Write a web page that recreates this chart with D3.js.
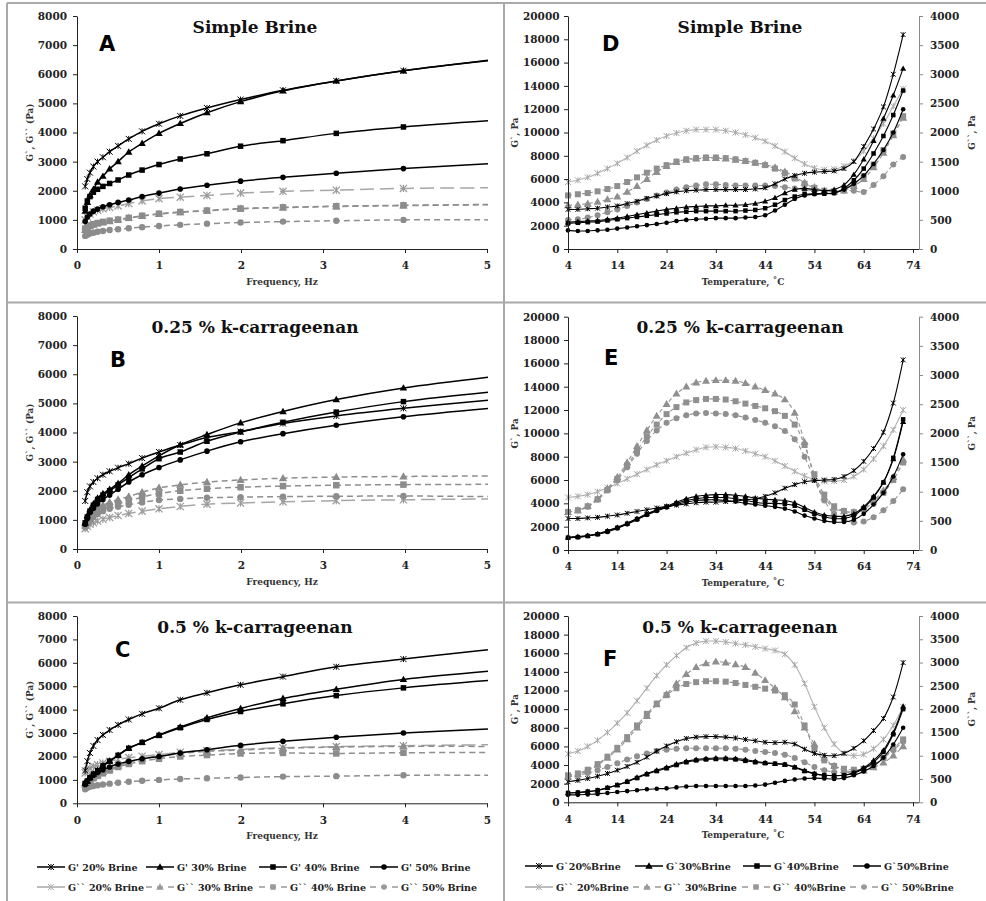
<!DOCTYPE html>
<html><head><meta charset="utf-8">
<script src="https://cdn.jsdelivr.net/npm/d3@7"></script>
<style>
body{margin:0;background:#fff}
svg text{font-family:"DejaVu Serif",serif;font-weight:bold}
</style>
</head><body>
<svg id="c" width="986" height="901"></svg>
<script>
// ---------- DATA ----------
const freq = [0.1,0.126,0.158,0.2,0.251,0.316,0.398,0.501,0.631,0.794,1,1.259,1.585,1.995,2.512,3.162,3.981,5.012];
const freqTicks = [0,1,2,3,4,5];
const freqYTicks = [0,1000,2000,3000,4000,5000,6000,7000,8000];

const A_Gp20 = [2150,2400,2620,2830,3000,3150,3340,3540,3780,4040,4300,4570,4840,5130,5450,5770,6120,6480];
const A_Gp30 = [1300,1600,1850,2050,2300,2500,2750,3000,3330,3630,3970,4310,4680,5060,5430,5770,6120,6460];
const A_Gp40 = [1400,1650,1800,1950,2050,2150,2250,2370,2540,2710,2900,3090,3270,3530,3720,3970,4190,4400];
const A_Gp50 = [950,1100,1200,1300,1370,1450,1520,1600,1680,1800,1920,2060,2190,2330,2460,2600,2760,2930];
const A_Gpp20 = [1000,1100,1200,1280,1330,1380,1430,1480,1560,1650,1730,1780,1840,1920,1980,2020,2080,2100];
const A_Gpp30 = [650,720,780,830,870,910,950,1000,1060,1130,1200,1260,1310,1380,1420,1460,1490,1520];
const A_Gpp40 = [700,760,810,850,890,930,970,1010,1070,1140,1210,1270,1320,1390,1430,1470,1500,1530];
const A_Gpp50 = [450,490,530,560,590,620,650,680,710,750,790,830,870,910,940,970,1000,1000];

const B_Gp20 = [1650,1950,2150,2300,2430,2550,2670,2790,2930,3120,3330,3570,3830,4030,4310,4570,4830,5110];
const B_Gp30 = [900,1150,1350,1550,1750,1900,2050,2250,2550,2850,3200,3580,3930,4330,4720,5130,5530,5900];
const B_Gp40 = [900,1100,1300,1500,1700,1850,2000,2200,2450,2750,3100,3330,3700,4020,4350,4700,5060,5380];
const B_Gp50 = [850,1050,1250,1400,1550,1700,1850,2050,2300,2550,2800,3060,3360,3680,3960,4250,4540,4820];
const B_Gpp20 = [700,780,850,900,960,1020,1080,1150,1220,1300,1380,1460,1540,1580,1620,1660,1690,1720];
const B_Gpp30 = [800,1000,1150,1300,1400,1500,1600,1700,1800,1950,2100,2200,2300,2370,2430,2470,2490,2510];
const B_Gpp40 = [800,950,1080,1200,1300,1400,1480,1550,1650,1780,1900,2000,2070,2120,2160,2190,2210,2220];
const B_Gpp50 = [750,900,1000,1100,1200,1300,1380,1450,1520,1600,1680,1720,1760,1780,1800,1810,1820,1800];

const C_Gp20 = [1400,1800,2150,2450,2700,2920,3130,3350,3580,3820,4060,4420,4720,5060,5410,5830,6160,6560];
const C_Gp30 = [850,950,1100,1250,1400,1600,1800,2050,2350,2600,2920,3260,3650,4050,4480,4870,5290,5640];
const C_Gp40 = [850,950,1100,1250,1400,1600,1800,2050,2350,2600,2900,3230,3580,3920,4250,4600,4930,5240];
const C_Gp50 = [800,950,1080,1200,1320,1430,1550,1680,1790,1900,2000,2150,2290,2480,2650,2820,3000,3170];
const C_Gpp20 = [1300,1400,1500,1580,1650,1720,1800,1880,1950,2010,2080,2180,2250,2300,2370,2420,2460,2500];
const C_Gpp30 = [800,900,1000,1100,1200,1330,1450,1600,1750,1900,2020,2120,2220,2270,2350,2400,2430,2430];
const C_Gpp40 = [780,880,980,1070,1170,1280,1400,1550,1680,1800,1900,2000,2060,2130,2150,2130,2160,2170];
const C_Gpp50 = [600,660,710,740,770,800,840,880,920,960,1000,1040,1070,1100,1140,1160,1200,1200];

const temps = [4,6,8,10,12, 14,16,18,20,22, 24,26,28,30,32, 34,36,38,40,42, 44,46,48,50,52, 54,56,58,60,62, 64,66,68,70,72];
const tempTicks = [4,14,24,34,44,54,64,74];
const gpTicks = [0,2000,4000,6000,8000,10000,12000,14000,16000,18000,20000];
const gppTicks = [0,500,1000,1500,2000,2500,3000,3500,4000];

const D_Gp20 = [3400,3400,3450,3500,3600, 3700,3900,4100,4350,4550, 4750,4900,5000,5050,5100, 5100,5100,5100,5100,5150, 5250,5600,6000,6300,6500, 6600,6650,6700,6900,7500, 8800,10300,12200,15000,18400];
const D_Gp30 = [2300,2350,2400,2450,2550, 2650,2800,2950,3100,3250, 3400,3500,3600,3650,3700, 3700,3750,3750,3800,3900, 4100,4400,4800,5100,5200, 5100,5000,5100,5500,6400, 7700,9300,11200,13200,15500];
const D_Gp40 = [2200,2250,2300,2350,2450, 2550,2650,2750,2850,2950, 3050,3150,3200,3250,3250, 3250,3250,3250,3300,3350, 3500,3800,4200,4500,4700, 4750,4750,4800,5200,5900, 6900,8200,9700,11500,13600];
const D_Gp50 = [1600,1550,1550,1600,1650, 1750,1850,1950,2050,2150, 2250,2400,2500,2550,2600, 2650,2650,2650,2700,2750, 2900,3300,3800,4300,4600, 4700,4750,4800,5100,5600, 6300,7300,8500,10000,12000];
const D_Gpp20 = [1150,1180,1230,1300,1380, 1470,1570,1680,1780,1870, 1940,1990,2030,2050,2050, 2050,2030,2000,1960,1910, 1850,1770,1670,1560,1460, 1390,1360,1370,1420,1510, 1680,1900,2150,2450,2750];
const D_Gpp30 = [750,760,780,810,850, 900,980,1080,1200,1320, 1420,1490,1530,1550,1560, 1560,1550,1530,1510,1480, 1450,1400,1330,1240,1140, 1060,1000,980,1000,1080, 1200,1400,1650,1950,2250];
const D_Gpp40 = [920,940,960,990,1030, 1080,1150,1230,1310,1380, 1440,1500,1540,1560,1570, 1570,1560,1540,1510,1480, 1440,1380,1300,1210,1120, 1050,1000,990,1020,1110, 1250,1450,1700,1980,2280];
const D_Gpp50 = [500,510,540,580,630, 680,740,800,860,920, 970,1020,1060,1090,1110, 1110,1100,1090,1090,1090, 1090,1080,1060,1040,1020, 1000,990,990,1000,1000, 980,1100,1250,1450,1580];

const E_Gp20 = [2700,2700,2750,2800,2900, 3000,3150,3300,3450,3600, 3750,3850,3950,4050,4100, 4100,4150,4200,4300,4400, 4600,4900,5300,5600,5850, 5950,6000,6050,6300,6800, 7600,8700,10100,12600,16300];
const E_Gp30 = [1100,1150,1250,1400,1650, 1950,2300,2700,3100,3450, 3750,4100,4400,4600,4700, 4750,4750,4700,4600,4450, 4350,4300,4250,4050,3650, 3250,3000,2900,2900,3100, 3700,4600,5800,7800,11000];
const E_Gp40 = [1050,1100,1200,1350,1600, 1900,2250,2650,3050,3400, 3700,4000,4250,4400,4500, 4500,4500,4400,4250,4100, 4000,4000,3950,3800,3450, 3100,2850,2700,2700,2950, 3600,4500,5800,7900,11200];
const E_Gp50 = [1050,1100,1200,1350,1550, 1850,2200,2600,3000,3350, 3650,3900,4100,4250,4300, 4300,4250,4150,4000,3900, 3800,3700,3550,3300,2950, 2700,2500,2400,2400,2600, 3100,3900,4900,6300,8200];
const E_Gpp20 = [900,920,950,1000,1070, 1140,1220,1300,1380,1460, 1530,1600,1660,1720,1760, 1770,1760,1740,1700,1650, 1600,1530,1440,1350,1270, 1210,1180,1180,1200,1260, 1380,1560,1780,2060,2400];
const E_Gpp30 = [650,680,750,880,1050, 1250,1500,1780,2050,2300, 2500,2680,2800,2870,2900, 2910,2910,2900,2860,2800, 2740,2680,2580,2350,1850, 1250,900,720,660,650, 720,850,1020,1250,1550];
const E_Gpp40 = [650,680,750,870,1030, 1220,1450,1700,1950,2150, 2330,2450,2530,2570,2590, 2590,2580,2550,2510,2470, 2430,2380,2300,2150,1800, 1300,950,750,670,650, 700,820,980,1200,1500];
const E_Gpp50 = [650,680,740,860,1020, 1200,1420,1650,1870,2050, 2180,2260,2310,2340,2350, 2340,2330,2310,2270,2230, 2180,2120,2040,1900,1600, 1200,850,620,520,470, 490,560,680,840,1040];

const F_Gp20 = [2200,2350,2550,2800,3100, 3450,3850,4300,4850,5500, 6050,6500,6850,7000,7050, 7050,7000,6900,6750,6600, 6450,6400,6450,6250,5700, 5250,5050,5000,5250,5800, 6600,7700,9000,11300,15000];
const F_Gp30 = [1000,1050,1150,1300,1550, 1850,2250,2700,3100,3450, 3750,4100,4400,4600,4700, 4750,4750,4700,4600,4400, 4250,4150,4050,3800,3400, 3100,2900,2850,2900,3200, 3700,4500,5600,7500,10300];
const F_Gp40 = [1000,1050,1150,1300,1550, 1850,2200,2600,3000,3350, 3650,4000,4300,4500,4600, 4650,4650,4600,4450,4300, 4200,4150,4050,3750,3350, 3050,2900,2850,2900,3150, 3600,4300,5400,7300,10000];
const F_Gp50 = [800,800,850,900,1000, 1100,1200,1300,1400,1450, 1500,1600,1700,1750,1750, 1750,1750,1750,1750,1800, 1900,2100,2300,2450,2550, 2600,2550,2500,2600,2900, 3300,3900,4800,6200,8000];
const F_Gpp20 = [1040,1100,1200,1330,1500, 1700,1920,2180,2450,2720, 2950,3150,3320,3420,3460, 3460,3440,3410,3380,3340, 3300,3260,3180,2950,2550, 2050,1600,1250,1050,1000, 1030,1150,1350,1650,2050];
const F_Gpp30 = [550,600,680,800,950, 1130,1350,1600,1850,2100, 2320,2550,2750,2900,2980, 3020,3000,2960,2900,2780, 2620,2450,2250,1950,1600, 1250,950,780,690,650, 680,750,850,1000,1200];
const F_Gpp40 = [580,620,700,820,980, 1170,1400,1650,1900,2120, 2300,2450,2540,2580,2600, 2600,2590,2560,2520,2480, 2440,2400,2300,2100,1650, 1150,900,780,720,700, 720,800,950,1150,1350];
const F_Gpp50 = [550,580,630,690,760, 840,920,990,1050,1100, 1130,1150,1160,1160,1160, 1160,1160,1150,1130,1100, 1080,1060,1020,950,860, 760,690,650,640,660, 720,820,950,1120,1300];

const leftLegendGp = ["G' 20%  Brine","G' 30% Brine","G' 40% Brine","G' 50%  Brine"];
const leftLegendGpp = ["G`` 20% Brine","G`` 30% Brine","G`` 40% Brine","G`` 50% Brine"];
const rightLegendGp = ["G`20%Brine","G`30%Brine","G`40%Brine","G`50%Brine"];
const rightLegendGpp = ["G`` 20%Brine","G`` 30%Brine","G`` 40%Brine","G`` 50%Brine"];

// ---------- DRAWING ----------
const svg = d3.select('#c');
const shapes = ['star','tri','sq','circ'];

function markers(g, shape, pts, o){
  const sel = g.selectAll(null).data(pts).enter();
  if(shape==='star'){
    const r=o.r;
    sel.append('path').attr('d', d=>`M${d[0]-r},${d[1]-r}L${d[0]+r},${d[1]+r}M${d[0]-r},${d[1]+r}L${d[0]+r},${d[1]-r}M${d[0]},${d[1]-r}L${d[0]},${d[1]+r}`)
      .attr('stroke',o.color).attr('stroke-width',o.sw||1).attr('fill','none');
  } else if(shape==='tri'){
    sel.append('path').attr('d', d3.symbol(d3.symbolTriangle, o.area)).attr('transform',d=>`translate(${d[0]},${d[1]+0.5})`).attr('fill',o.color);
  } else if(shape==='sq'){
    sel.append('rect').attr('x',d=>d[0]-o.s/2).attr('y',d=>d[1]-o.s/2).attr('width',o.s).attr('height',o.s).attr('fill',o.color);
  } else {
    sel.append('circle').attr('cx',d=>d[0]).attr('cy',d=>d[1]).attr('r',o.cr).attr('fill',o.color);
  }
}

function series(g, xs, vals, x, y, shape, st, xmax){
  const pts = xs.map((v,i)=>[x(v), y(vals[i])]);
  const line = d3.line().curve(d3.curveCatmullRom.alpha(0.5));
  g.append('path').attr('d', line(pts)).attr('fill','none').attr('stroke',st.line)
    .attr('stroke-width',st.lw).attr('stroke-dasharray',st.dash||null);
  const mp = pts.filter((p,i)=>xs[i]<=xmax);
  markers(g, shape, mp, st.m);
}

function styleAxis(g, color){
  g.selectAll('path.domain').attr('stroke',color||'#222').attr('stroke-width',1);
  g.selectAll('.tick line').attr('stroke',color||'#222');
  g.selectAll('.tick text').attr('fill','#222').style('font-size','10.5px')
    .style('font-family','"DejaVu Serif",serif').style('font-weight','bold');
}

function panelText(p, cx){
  svg.append('text').attr('x',cx).attr('y',p.titleY).attr('text-anchor','middle')
    .style('font-size','17px').attr('fill','#111').text(p.title);
  svg.append('text').attr('x',p.letterX).attr('y',p.letterY)
    .style('font-family','"DejaVu Sans",sans-serif').style('font-size','21px').attr('fill','#000').text(p.letter);
}

// frame
const frame = svg.append('g').attr('stroke','#a9a9a9').attr('stroke-width',2);
frame.append('line').attr('x1',7).attr('x2',986).attr('y1',3).attr('y2',3);
frame.append('line').attr('x1',7).attr('x2',7).attr('y1',3).attr('y2',901);
frame.append('line').attr('x1',504).attr('x2',504).attr('y1',3).attr('y2',901);
frame.append('line').attr('x1',7).attr('x2',986).attr('y1',302.5).attr('y2',302.5);
frame.append('line').attr('x1',7).attr('x2',986).attr('y1',602.5).attr('y2',602.5);

const freqPanels = [
  {letter:'A', title:'Simple Brine', top:16, bottom:249, titleY:33, letterX:99, letterY:51,
   gp:[A_Gp20,A_Gp30,A_Gp40,A_Gp50], gpp:[A_Gpp20,A_Gpp30,A_Gpp40,A_Gpp50]},
  {letter:'B', title:'0.25 % k-carrageenan', top:316, bottom:549, titleY:333, letterX:110, letterY:367,
   gp:[B_Gp20,B_Gp30,B_Gp40,B_Gp50], gpp:[B_Gpp20,B_Gpp30,B_Gpp40,B_Gpp50]},
  {letter:'C', title:'0.5 % k-carrageenan', top:616, bottom:803.3, titleY:633, letterX:115, letterY:657,
   gp:[C_Gp20,C_Gp30,C_Gp40,C_Gp50], gpp:[C_Gpp20,C_Gpp30,C_Gpp40,C_Gpp50]}
];

const blackF = {line:'#000', lw:1.5, m:{color:'#000', r:3, area:24, s:5.5, cr:2.8}};
const grayF20 = {line:'#a6a6a6', lw:1.5, dash:'14,6', m:{color:'#9a9a9a', r:3.6, sw:1.2}};
const grayF = {line:'#8e8e8e', lw:1.5, dash:'6,4', m:{color:'#8c8c8c', area:30, s:6.5, cr:3.2}};

freqPanels.forEach(p=>{
  const x = d3.scaleLinear().domain([0,5]).range([77,487]);
  const y = d3.scaleLinear().domain([0,8000]).range([p.bottom,p.top]);
  const g = svg.append('g');
  p.gpp.forEach((v,i)=>series(g, freq, v, x, y, shapes[i], i===0?grayF20:grayF, 5));
  p.gp.forEach((v,i)=>series(g, freq, v, x, y, shapes[i], blackF, 5));
  const gx = svg.append('g').attr('transform',`translate(0,${p.bottom})`)
    .call(d3.axisBottom(x).tickValues(freqTicks).tickSize(4).tickSizeOuter(0).tickPadding(9).tickFormat(d3.format('d')));
  const gy = svg.append('g').attr('transform','translate(77,0)')
    .call(d3.axisLeft(y).tickValues(freqYTicks).tickSize(4).tickSizeOuter(0).tickPadding(6).tickFormat(d3.format('d')));
  styleAxis(gx); styleAxis(gy);
  svg.append('text').attr('x',282).attr('y',p.bottom+36).attr('text-anchor','middle')
    .style('font-size','9px').attr('fill','#333').text('Frequency, Hz');
  svg.append('text').attr('transform',`translate(33,${(p.top+p.bottom)/2}) rotate(-90)`).attr('text-anchor','middle')
    .style('font-size','8.8px').attr('fill','#333').text('G`, G`` (Pa)');
  panelText(p, 255);
});

const tempPanels = [
  {letter:'D', title:'Simple Brine', top:16, bottom:249, titleY:33, letterX:602, letterY:51,
   gp:[D_Gp20,D_Gp30,D_Gp40,D_Gp50], gpp:[D_Gpp20,D_Gpp30,D_Gpp40,D_Gpp50]},
  {letter:'E', title:'0.25 % k-carrageenan', top:316.7, bottom:550, titleY:333, letterX:604, letterY:365,
   gp:[E_Gp20,E_Gp30,E_Gp40,E_Gp50], gpp:[E_Gpp20,E_Gpp30,E_Gpp40,E_Gpp50]},
  {letter:'F', title:'0.5 % k-carrageenan', top:616, bottom:802.3, titleY:633, letterX:603, letterY:666,
   gp:[F_Gp20,F_Gp30,F_Gp40,F_Gp50], gpp:[F_Gpp20,F_Gpp30,F_Gpp40,F_Gpp50]}
];

const blackT = {line:'#000', lw:1.1, m:{color:'#000', r:2.4, area:16, s:4.5, cr:2.3}};
const grayT20 = {line:'#b3b3b3', lw:1.1, m:{color:'#a8a8a8', r:3, sw:1}};
const grayT = {line:'#939393', lw:1.1, dash:'4,3', m:{color:'#8f8f8f', area:28, s:6, cr:3}};

tempPanels.forEach(p=>{
  const x = d3.scaleLinear().domain([4,74]).range([568,913]);
  const yL = d3.scaleLinear().domain([0,20000]).range([p.bottom,p.top]);
  const yR = d3.scaleLinear().domain([0,4000]).range([p.bottom,p.top]);
  const g = svg.append('g');
  p.gpp.forEach((v,i)=>series(g, temps, v, x, yR, shapes[i], i===0?grayT20:grayT, 74));
  p.gp.forEach((v,i)=>series(g, temps, v, x, yL, shapes[i], blackT, 74));
  const gx = svg.append('g').attr('transform',`translate(0,${p.bottom})`)
    .call(d3.axisBottom(x).tickValues(tempTicks).tickSize(4).tickSizeOuter(0).tickPadding(9).tickFormat(d3.format('d')));
  gx.append('line').attr('x1',913).attr('x2',919).attr('y1',0.5).attr('y2',0.5).attr('stroke','#222');
  const gy = svg.append('g').attr('transform','translate(568,0)')
    .call(d3.axisLeft(yL).tickValues(gpTicks).tickSize(4).tickSizeOuter(0).tickPadding(4.5).tickFormat(d3.format('d')));
  const gr = svg.append('g').attr('transform','translate(919,0)')
    .call(d3.axisRight(yR).tickValues(gppTicks).tickSize(4).tickSizeOuter(0).tickPadding(7).tickFormat(d3.format('d')));
  styleAxis(gx); styleAxis(gy); styleAxis(gr,'#8a8a8a');
  svg.append('text').attr('x',743).attr('y',p.bottom+36).attr('text-anchor','middle')
    .style('font-size','9px').attr('fill','#333').text('Temperature, ˚C');
  svg.append('text').attr('transform',`translate(518,${(p.top+p.bottom)/2}) rotate(-90)`).attr('text-anchor','middle')
    .style('font-size','8.8px').attr('fill','#333').text('G`, Pa');
  svg.append('text').attr('transform',`translate(975,${(p.top+p.bottom)/2}) rotate(-90)`).attr('text-anchor','middle')
    .style('font-size','8.8px').attr('fill','#333').text('G``, Pa');
  panelText(p, 740);
});

// ---------- LEGENDS ----------
function legend(xs, y, labels, styles){
  labels.forEach((lab,i)=>{
    const st = styles[i];
    const g = svg.append('g');
    g.append('line').attr('x1',xs[i]).attr('x2',xs[i]+28).attr('y1',y).attr('y2',y)
      .attr('stroke',st.line).attr('stroke-width',1.5).attr('stroke-dasharray',st.dash||null);
    markers(g, shapes[i], [[xs[i]+14,y]], st.m);
    g.append('text').attr('x',xs[i]+31).attr('y',y+3.5).style('font-size','9.5px').attr('fill','#222').text(lab);
  });
}
const lgBlack = [blackF,blackF,blackF,blackF];
const lgGray = [{line:'#a6a6a6', m:{color:'#b0b0b0', r:3, sw:1}},
  {line:'#999', dash:'6,5', m:{color:'#999', area:24, s:5.5, cr:2.8}},
  {line:'#999', dash:'6,5', m:{color:'#999', area:24, s:5.5, cr:2.8}},
  {line:'#999', dash:'6,5', m:{color:'#999', area:24, s:5.5, cr:2.8}}];
legend([37,146,259,370], 867, leftLegendGp, lgBlack);
legend([37,146,259,370], 887, leftLegendGpp, lgGray);
legend([525,635,743,853], 866, rightLegendGp, lgBlack);
legend([525,633,742,850], 887, rightLegendGpp, lgGray);
</script>
</body></html>
